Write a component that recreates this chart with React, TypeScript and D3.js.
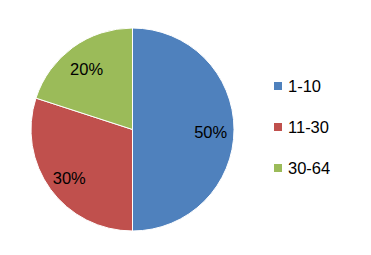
import React from "react";
import * as d3 from "d3";

const categories = ["1-10", "11-30", "30-64"];
const values = [50, 30, 20];
const labels = ["50%", "30%", "20%"];
const colors = ["#4F81BD", "#C0504D", "#9BBB59"];

export default function App() {
  const W = 371, H = 255;
  const cx = 132.5, cy = 129.5, r = 101.5;
  const pie = d3.pie<number>().sort(null).value((d) => d)(values);
  const arc = d3.arc<d3.PieArcDatum<number>>().innerRadius(0).outerRadius(r);
  const labelArc = d3.arc<d3.PieArcDatum<number>>().innerRadius(r * 0.77).outerRadius(r * 0.77);
  const font = "'Liberation Sans', Arial, sans-serif";
  return (
    <svg width={W} height={H} style={{ position: "absolute", left: 0, top: 0, background: "#fff" }}>
      <rect width={W} height={H} fill="#fff" />
      <g transform={`translate(${cx},${cy})`}>
        {pie.map((p, i) => (
          <path key={i} d={arc(p) || ""} fill={colors[i]} stroke="#fff" strokeWidth={1} />
        ))}
        {pie.map((p, i) => {
          const [x, y] = labelArc.centroid(p);
          return (
            <text key={i} x={x} y={y + 3} dy="0.36em" textAnchor="middle" fontFamily={font} fontSize={16.5} fill="#000">
              {labels[i]}
            </text>
          );
        })}
      </g>
      {categories.map((c, i) => (
        <g key={c} transform={`translate(274,${82 + i * 41})`}>
          <rect width={8} height={8} fill={colors[i]} />
          <text x={14} y={4.5} dy="0.36em" fontFamily={font} fontSize={16.5} fill="#000">
            {c}
          </text>
        </g>
      ))}
    </svg>
  );
}
